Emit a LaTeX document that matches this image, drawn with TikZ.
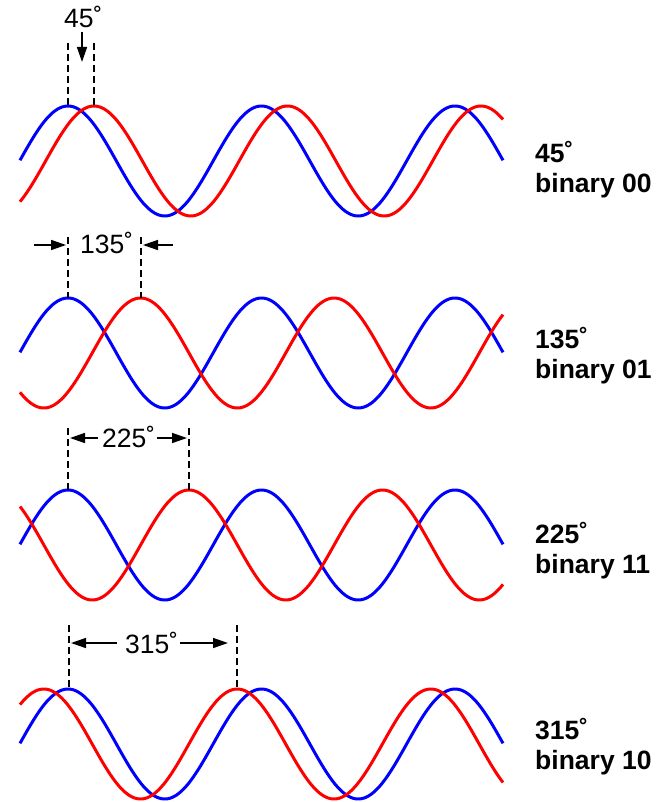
\documentclass[tikz,border=0pt]{standalone}
\usepackage{fontspec}
\setmainfont{Liberation Sans}
\usetikzlibrary{arrows.meta}
\definecolor{wblue}{RGB}{0,0,255}
\definecolor{wred}{RGB}{255,0,0}
\newcommand\mywaves[2]{%
  \draw[bluewave] plot[domain=20:503,samples=220] (\x,{#1-55*cos((\x-68)*1.860465)});
  \draw[redwave] plot[domain=20:503,samples=220] (\x,{#1-55*cos((\x-68-#2)*1.860465)});}
\begin{document}
\begin{tikzpicture}[x=1pt,y=-1pt,
  wave/.style={line width=3pt, line join=round},
  bluewave/.style={wave, draw=wblue},
  redwave/.style={wave, draw=wred},
  guide/.style={line width=2.2pt, dash pattern=on 7pt off 4pt},
  arr/.style={line width=1.5pt, -{Triangle[length=15pt,width=10pt]}},
  phase/.style={font=\fontsize{26.5}{30}\selectfont, inner sep=0pt, anchor=base west},
  tag/.style={font=\bfseries\fontsize{26.5}{30}\selectfont, inner sep=0pt, anchor=base west}]
\useasboundingbox (0,0) rectangle (664,802);

% ---------- panel 1 : 45 ----------
\mywaves{161}{26}
\coordinate (g1bt) at (68,43);  \coordinate (g1bb) at (68,106);
\coordinate (g1rt) at (94,43);  \coordinate (g1rb) at (94,106);
\draw[guide] (g1bt) -- (g1bb);
\draw[guide] (g1rt) -- (g1rb);
\node[phase] (l1) at (64,28) {45˚};
\coordinate (a1s) at (82,32); \coordinate (a1e) at (82,62);
\draw[arr] (a1s) -- (a1e);
\node[tag] (d1) at (535,163) {45˚};
\node[tag] (b1) at (535,193) {binary 00};

% ---------- panel 2 : 135 ----------
\mywaves{353}{72.6}
\coordinate (g2bt) at (68,237);  \coordinate (g2bb) at (68,298);
\coordinate (g2rt) at (141,237); \coordinate (g2rb) at (141,298);
\draw[guide] (g2bt) -- (g2bb);
\draw[guide] (g2rt) -- (g2rb);
\node[phase] (l2) at (80,253) {135˚};
\coordinate (a2ls) at (34,245);  \coordinate (a2le) at (66,245);
\coordinate (a2rs) at (173,245); \coordinate (a2re) at (143,245);
\draw[arr] (a2ls) -- (a2le);
\draw[arr] (a2rs) -- (a2re);
\node[tag] (d2) at (535,348) {135˚};
\node[tag] (b2) at (535,378) {binary 01};

% ---------- panel 3 : 225 ----------
\mywaves{545}{121}
\coordinate (g3bt) at (68,428);  \coordinate (g3bb) at (68,490);
\coordinate (g3rt) at (189,428); \coordinate (g3rb) at (189,490);
\draw[guide] (g3bt) -- (g3bb);
\draw[guide] (g3rt) -- (g3rb);
\node[phase] (l3) at (102,447) {225˚};
\coordinate (a3ls) at (98,438);  \coordinate (a3le) at (70,438);
\coordinate (a3rs) at (157,438); \coordinate (a3re) at (187,438);
\draw[arr] (a3ls) -- (a3le);
\draw[arr] (a3rs) -- (a3re);
\node[tag] (d3) at (535,543) {225˚};
\node[tag] (b3) at (535,573) {binary 11};

% ---------- panel 4 : 315 ----------
\mywaves{744}{169.3}
\coordinate (g4bt) at (69,625);  \coordinate (g4bb) at (69,689);
\coordinate (g4rt) at (237,625); \coordinate (g4rb) at (237,689);
\draw[guide] (g4bt) -- (g4bb);
\draw[guide] (g4rt) -- (g4rb);
\node[phase] (l4) at (125,653) {315˚};
\coordinate (a4ls) at (117,643); \coordinate (a4le) at (71,643);
\coordinate (a4rs) at (180,643); \coordinate (a4re) at (228,643);
\draw[arr] (a4ls) -- (a4le);
\draw[arr] (a4rs) -- (a4re);
\node[tag] (d4) at (535,739) {315˚};
\node[tag] (b4) at (535,769) {binary 10};
\end{tikzpicture}
\end{document}
